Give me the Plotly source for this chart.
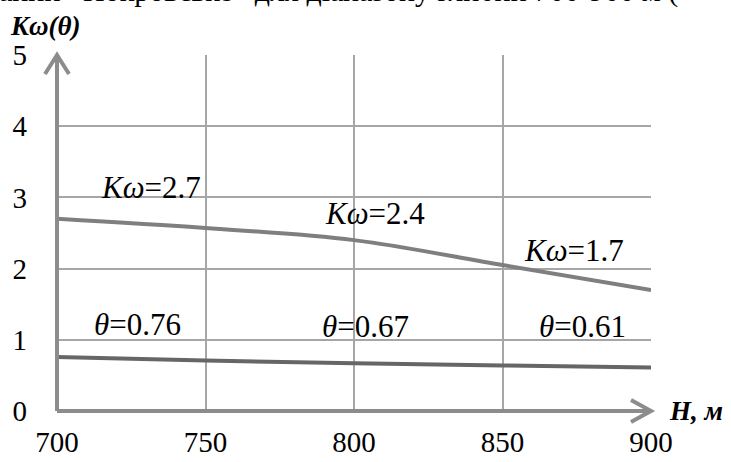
import plotly.graph_objects as go

depth_m = [700, 750, 800, 850, 900]
k_omega = [2.7, 2.57, 2.4, 2.05, 1.7]
theta = [0.76, 0.71, 0.67, 0.64, 0.61]
x_ticks = [700, 750, 800, 850, 900]
y_ticks = [0, 1, 2, 3, 4, 5]

k_labels = ["2.7", "2.4", "1.7"]
k_label_x = [714, 789.6, 856.6]
k_label_y = [3.14, 2.77, 2.25]
t_labels = ["0.76", "0.67", "0.61"]
t_label_x = [711.8, 788.6, 861.6]
t_label_y = [1.21, 1.185, 1.185]

FONT = "'Liberation Serif', 'Times New Roman', 'DejaVu Serif', serif"
AX = "#8c8c8c"
PW, PH = 594.0, 356.5  # plot area size in px

fig = go.Figure()
fig.add_trace(go.Scatter(x=depth_m, y=k_omega, mode="lines",
                         line=dict(color="#7f7f7f", width=4, shape="spline"),
                         showlegend=False, hoverinfo="skip"))
fig.add_trace(go.Scatter(x=depth_m, y=theta, mode="lines",
                         line=dict(color="#666666", width=4, shape="spline"),
                         showlegend=False, hoverinfo="skip"))

ann = []
for t, x, y in zip(k_labels, k_label_x, k_label_y):
    ann.append(dict(x=x, y=y, xref="x", yref="y", xanchor="left", yanchor="middle",
                    text="<i>Kω</i>=" + t, showarrow=False,
                    font=dict(family=FONT, size=31, color="#000")))
for t, x, y in zip(t_labels, t_label_x, t_label_y):
    ann.append(dict(x=x, y=y, xref="x", yref="y", xanchor="left", yanchor="middle",
                    text="<i>θ</i>=" + t, showarrow=False,
                    font=dict(family=FONT, size=31, color="#000")))
ann.append(dict(x=-49 / PW, y=(411.5 - 26) / PH, xref="paper", yref="paper",
                xanchor="left", yanchor="middle", showarrow=False,
                text="<b><i>Kω(θ)</i></b>", font=dict(family=FONT, size=27, color="#000")))
ann.append(dict(x=(667 - 57) / PW, y=0, xref="paper", yref="paper",
                xanchor="left", yanchor="middle", showarrow=False,
                text="<b><i>H, м</i></b>", font=dict(family=FONT, size=27, color="#000")))
ann.append(dict(x=-57 / PW - 0.005, y=(411.5 + 9) / PH, xref="paper", yref="paper",
                xanchor="left", yanchor="middle", showarrow=False,
                text="ании «Покровське» для діапазону глибин 700-900 м (",
                font=dict(family=FONT, size=30, color="#000")))

ax_dx, ax_dy = 20 / PW, 11 / PH   # x-arrow wing offsets (paper units)
ay_dx, ay_dy = 12 / PW, 19 / PH   # y-arrow wing offsets
shapes = [
    dict(type="line", xref="paper", yref="paper", x0=0, y0=0, x1=1, y1=0,
         line=dict(color=AX, width=4), layer="above"),
    dict(type="line", xref="paper", yref="paper", x0=0, y0=0, x1=0, y1=1,
         line=dict(color=AX, width=4), layer="above"),
    dict(type="path", xref="paper", yref="paper",
         path=f"M {1-ax_dx},{ax_dy} L 1,0 L {1-ax_dx},{-ax_dy}",
         line=dict(color=AX, width=4), layer="above"),
    dict(type="path", xref="paper", yref="paper",
         path=f"M {-ay_dx},{1-ay_dy} L 0,1 L {ay_dx},{1-ay_dy}",
         line=dict(color=AX, width=4), layer="above"),
]

fig.update_layout(
    width=731, height=462,
    margin=dict(l=57, r=80, t=55, b=50.5, autoexpand=False),
    paper_bgcolor="white", plot_bgcolor="white",
    annotations=ann, shapes=shapes,
    xaxis=dict(range=[700, 900], tickvals=x_ticks, showgrid=True, automargin=False,
               gridcolor="#a6a6a6", gridwidth=1.5, zeroline=False, showline=False,
               ticks="", ticklabelstandoff=11,
               tickfont=dict(family=FONT, size=29, color="#000")),
    yaxis=dict(range=[0, 5], tickvals=y_ticks, showgrid=True, automargin=False,
               gridcolor="#a6a6a6", gridwidth=1.5, zeroline=False, showline=False,
               ticks="", ticklabelstandoff=29,
               tickfont=dict(family=FONT, size=29, color="#000")),
)
fig.write_html("out.html", config={"displayModeBar": False},
               post_script="document.body.style.margin='0';document.body.style.overflow='hidden';")
